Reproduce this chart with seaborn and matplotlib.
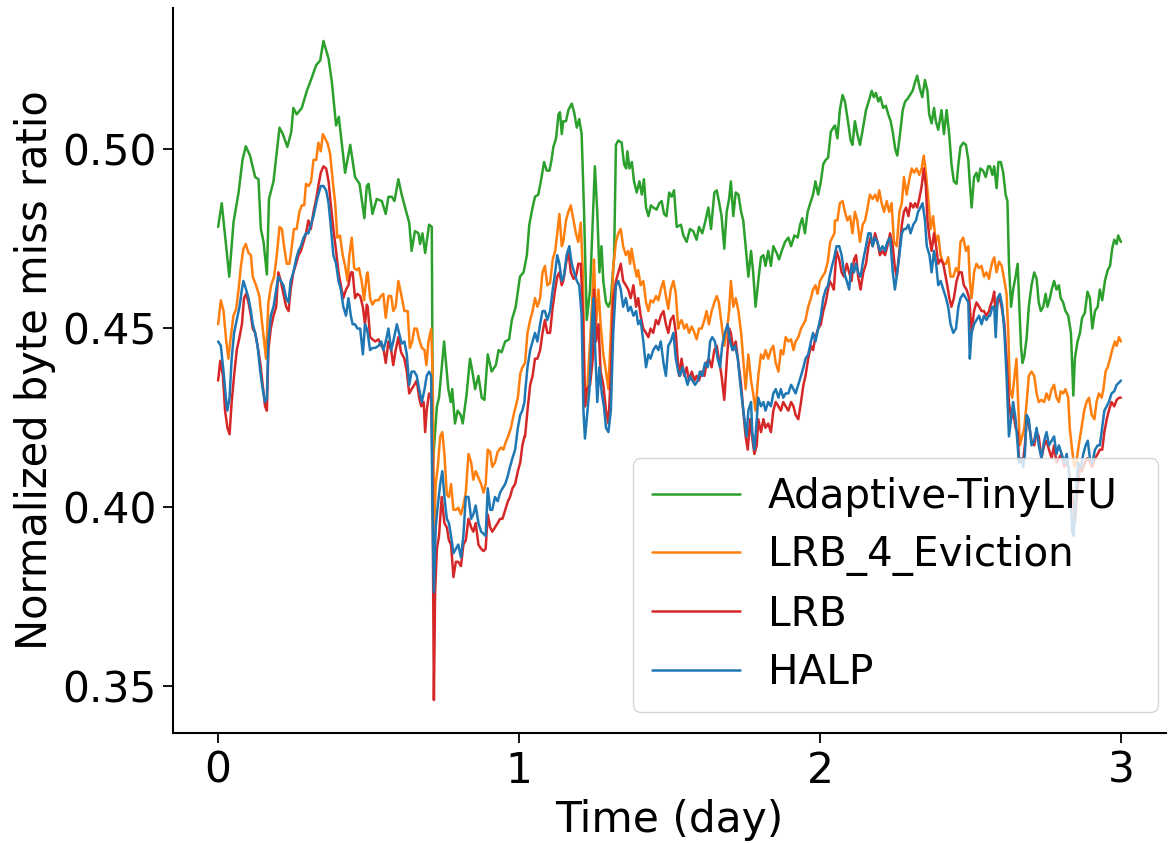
import matplotlib
matplotlib.use("Agg")
import matplotlib.pyplot as plt
import seaborn as sns

# values (time in days, normalized byte miss ratio)
tinylfu_t = [
    0.000, 0.012, 0.037, 0.051, 0.068, 0.081, 0.092, 0.106, 0.123, 0.134, 0.142, 0.151, 0.162, 0.169, 0.184, 0.204, 0.215, 0.230, 0.243, 0.250,
    0.261, 0.278, 0.295, 0.311, 0.326, 0.339, 0.350, 0.367, 0.378, 0.392, 0.401, 0.422, 0.439, 0.455, 0.470, 0.486, 0.494,
    0.500, 0.513, 0.527, 0.544, 0.557, 0.566, 0.577, 0.586, 0.599, 0.610, 0.627, 0.635, 0.643, 0.654, 0.666, 0.671, 0.679, 0.688, 0.701, 0.710,
    0.714, 0.727, 0.734, 0.751, 0.765, 0.773, 0.778, 0.787, 0.796, 0.806, 0.813, 0.826, 0.837, 0.845, 0.854, 0.865, 0.876, 0.885, 0.896, 0.909,
    0.923, 0.932, 0.942, 0.954, 0.967, 0.976, 0.989,
    1.003, 1.015, 1.026, 1.034, 1.045, 1.053, 1.064, 1.075, 1.083, 1.092, 1.101, 1.108, 1.114, 1.123, 1.131, 1.136, 1.142, 1.147, 1.156, 1.164,
    1.175, 1.183, 1.192, 1.200, 1.208, 1.216, 1.225, 1.236, 1.245, 1.252, 1.260, 1.267, 1.274, 1.280, 1.289, 1.297, 1.305, 1.316, 1.322, 1.330,
    1.341, 1.349, 1.356, 1.360, 1.367, 1.375, 1.382, 1.391, 1.400, 1.408, 1.415, 1.422, 1.430, 1.438, 1.446, 1.457, 1.466, 1.474, 1.482, 1.490,
    1.499, 1.507, 1.515, 1.524,
    1.538, 1.546, 1.557, 1.568, 1.579, 1.590, 1.598, 1.609, 1.618, 1.629, 1.638, 1.649, 1.657, 1.664, 1.673, 1.682, 1.690, 1.698, 1.704, 1.712,
    1.720, 1.729, 1.738, 1.745, 1.753, 1.762, 1.771, 1.778, 1.786, 1.795, 1.804, 1.812, 1.819, 1.828, 1.837, 1.845, 1.856, 1.864, 1.873, 1.884,
    1.895, 1.904, 1.915, 1.926, 1.934, 1.941, 1.950, 1.959, 1.970, 1.977, 1.985, 1.994, 2.003, 2.011, 2.019, 2.027, 2.036, 2.044,
    2.050, 2.058, 2.066, 2.075, 2.083, 2.094, 2.102, 2.108, 2.116, 2.124, 2.133, 2.142, 2.153, 2.164, 2.172, 2.179, 2.186, 2.194, 2.201, 2.210,
    2.219, 2.227, 2.235, 2.243, 2.250, 2.257, 2.266, 2.275, 2.283, 2.290, 2.299, 2.308, 2.316, 2.323, 2.332, 2.340, 2.349, 2.357, 2.363, 2.371,
    2.379, 2.385, 2.393, 2.404, 2.412, 2.421, 2.430, 2.437, 2.445, 2.454, 2.460, 2.467, 2.476, 2.485, 2.493, 2.498, 2.504, 2.512, 2.520, 2.526,
    2.533, 2.542, 2.551, 2.559,
    2.565, 2.573, 2.579, 2.587, 2.593, 2.601, 2.609, 2.617, 2.623, 2.628, 2.635, 2.642, 2.650, 2.657, 2.662, 2.668, 2.673, 2.679, 2.687, 2.694,
    2.703, 2.712, 2.720, 2.727, 2.734, 2.742, 2.750, 2.756, 2.764, 2.770, 2.778, 2.786, 2.794, 2.800, 2.808, 2.816, 2.825, 2.834, 2.842, 2.847,
    2.856, 2.864, 2.871, 2.880, 2.889, 2.897, 2.905, 2.914, 2.923, 2.930, 2.938, 2.947, 2.956, 2.964, 2.971, 2.978, 2.986, 2.991, 3.000,
]
tinylfu_v = [
    0.4783, 0.4849, 0.4644, 0.4795, 0.4879, 0.4970, 0.5008, 0.4982, 0.4922, 0.4916, 0.4777, 0.4741, 0.4650, 0.4861, 0.4910, 0.5060, 0.5042, 0.5006, 0.5048, 0.5115,
    0.5097, 0.5115, 0.5163, 0.5199, 0.5235, 0.5247, 0.5302, 0.5253, 0.5187, 0.5066, 0.5090, 0.4934, 0.5012, 0.4922, 0.4903, 0.4807, 0.4897,
    0.4903, 0.4819, 0.4861, 0.4855, 0.4819, 0.4867, 0.4867, 0.4855, 0.4916, 0.4873, 0.4819, 0.4795, 0.4716, 0.4771, 0.4765, 0.4735, 0.4765, 0.4710, 0.4789, 0.4783,
    0.4125, 0.4282, 0.4306, 0.4463, 0.4330, 0.4294, 0.4330, 0.4234, 0.4270, 0.4258, 0.4234, 0.4318, 0.4415, 0.4379, 0.4330, 0.4367, 0.4306, 0.4300, 0.4427, 0.4379,
    0.4397, 0.4439, 0.4433, 0.4463, 0.4469, 0.4523, 0.4560,
    0.4644, 0.4656, 0.4704, 0.4789, 0.4837, 0.4867, 0.4873, 0.4922, 0.4964, 0.4940, 0.4940, 0.4970, 0.5006, 0.5030, 0.5097, 0.5103, 0.5042, 0.5078, 0.5078, 0.5109,
    0.5127, 0.5103, 0.5060, 0.5084, 0.5042, 0.4825, 0.4523, 0.4608, 0.4801, 0.4952, 0.4825, 0.4656, 0.4729, 0.4632, 0.4572, 0.4560, 0.4578, 0.4704, 0.5012, 0.5024,
    0.5018, 0.4958, 0.4946, 0.4994, 0.4946, 0.4964, 0.4910, 0.4879, 0.4910, 0.4873, 0.4916, 0.4837, 0.4813, 0.4843, 0.4837, 0.4831, 0.4849, 0.4855, 0.4819, 0.4813,
    0.4879, 0.4867, 0.4885, 0.4783,
    0.4789, 0.4759, 0.4741, 0.4777, 0.4771, 0.4747, 0.4783, 0.4765, 0.4795, 0.4837, 0.4777, 0.4879, 0.4885, 0.4855, 0.4813, 0.4722, 0.4825, 0.4861, 0.4910, 0.4813,
    0.4879, 0.4873, 0.4825, 0.4801, 0.4729, 0.4644, 0.4716, 0.4656, 0.4560, 0.4632, 0.4698, 0.4704, 0.4674, 0.4716, 0.4674, 0.4729, 0.4710, 0.4692, 0.4716, 0.4741,
    0.4753, 0.4729, 0.4759, 0.4753, 0.4789, 0.4807, 0.4765, 0.4825, 0.4855, 0.4873, 0.4910, 0.4873, 0.4910, 0.4958, 0.4970, 0.4976, 0.5048, 0.5060,
    0.5066, 0.5030, 0.5109, 0.5151, 0.5133, 0.5072, 0.5024, 0.5012, 0.5078, 0.5042, 0.5012, 0.5054, 0.5109, 0.5139, 0.5163, 0.5145, 0.5157, 0.5133, 0.5145, 0.5115,
    0.5121, 0.5097, 0.5078, 0.5042, 0.5000, 0.4982, 0.5042, 0.5109, 0.5133, 0.5139, 0.5151, 0.5163, 0.5187, 0.5205, 0.5169, 0.5145, 0.5193, 0.5163, 0.5097, 0.5072,
    0.5115, 0.5078, 0.5054, 0.5109, 0.5042, 0.5109, 0.5036, 0.4958, 0.4910, 0.4903, 0.4958, 0.5006, 0.5018, 0.5012, 0.4970, 0.4903, 0.4837, 0.4922, 0.4934, 0.4910,
    0.4946, 0.4940, 0.4922, 0.4952,
    0.4952, 0.4928, 0.4952, 0.4891, 0.4964, 0.4964, 0.4934, 0.4873, 0.4855, 0.4680, 0.4560, 0.4608, 0.4644, 0.4680, 0.4572, 0.4451, 0.4403, 0.4421, 0.4475, 0.4560,
    0.4620, 0.4656, 0.4638, 0.4572, 0.4548, 0.4560, 0.4596, 0.4560, 0.4584, 0.4608, 0.4632, 0.4608, 0.4620, 0.4584, 0.4572, 0.4548, 0.4535, 0.4487, 0.4312, 0.4415,
    0.4463, 0.4487, 0.4529, 0.4542, 0.4602, 0.4584, 0.4499, 0.4548, 0.4560, 0.4608, 0.4578, 0.4632, 0.4662, 0.4674, 0.4722, 0.4747, 0.4735, 0.4759, 0.4741,
]

lrb4_t = [
    0.000, 0.009, 0.018, 0.027, 0.034, 0.042, 0.051, 0.060, 0.068, 0.075, 0.084, 0.092, 0.101, 0.109, 0.115, 0.126, 0.137, 0.145, 0.153, 0.159,
    0.167, 0.176, 0.186, 0.195, 0.204, 0.212, 0.219, 0.228, 0.237, 0.245, 0.252, 0.261, 0.270, 0.278, 0.286, 0.292, 0.301, 0.309, 0.317, 0.326,
    0.333, 0.341, 0.348, 0.355, 0.363, 0.372, 0.381, 0.389, 0.396, 0.405, 0.414, 0.422, 0.430, 0.436, 0.444, 0.452, 0.461, 0.468, 0.477, 0.485,
    0.494,
    0.497, 0.505, 0.513, 0.522, 0.533, 0.541, 0.549, 0.557, 0.566, 0.575, 0.582, 0.590, 0.599, 0.608, 0.619, 0.630, 0.637, 0.645, 0.652, 0.660,
    0.668, 0.677, 0.686, 0.692, 0.699, 0.708, 0.713, 0.718, 0.723, 0.730, 0.738, 0.745, 0.752, 0.760, 0.767, 0.774, 0.782, 0.790, 0.798, 0.807,
    0.815, 0.823, 0.832, 0.841, 0.848, 0.856, 0.865, 0.874, 0.882, 0.889, 0.896, 0.904, 0.911, 0.920, 0.929, 0.940, 0.948, 0.955, 0.964, 0.973,
    0.982, 0.989, 0.996, 1.004, 1.011,
    1.020, 1.028, 1.037, 1.045, 1.053, 1.061, 1.070, 1.078, 1.086, 1.094, 1.103, 1.112, 1.120, 1.127, 1.134, 1.142, 1.147, 1.156, 1.164, 1.172,
    1.181, 1.189, 1.197, 1.205, 1.212, 1.219, 1.225, 1.236, 1.245, 1.249, 1.256, 1.264, 1.271, 1.280, 1.289, 1.297, 1.305, 1.313, 1.322, 1.330,
    1.338, 1.346, 1.355, 1.363, 1.369, 1.374, 1.382, 1.391, 1.396, 1.404, 1.413, 1.422, 1.430, 1.437, 1.446, 1.455, 1.463, 1.471, 1.480, 1.488,
    1.496, 1.504, 1.513, 1.521, 1.529,
    1.532, 1.540, 1.549, 1.557, 1.565, 1.574, 1.583, 1.590, 1.598, 1.607, 1.616, 1.623, 1.631, 1.640, 1.649, 1.657, 1.664, 1.673, 1.682, 1.690,
    1.698, 1.704, 1.712, 1.720, 1.729, 1.738, 1.745, 1.753, 1.762, 1.771, 1.778, 1.786, 1.795, 1.804, 1.812, 1.819, 1.828, 1.837, 1.845, 1.853,
    1.862, 1.870, 1.878, 1.886, 1.895, 1.904, 1.912, 1.919, 1.928, 1.937, 1.945, 1.952, 1.961, 1.970, 1.977, 1.985, 1.992, 2.000, 2.008, 2.017,
    2.026, 2.034, 2.041, 2.048,
    2.050, 2.058, 2.066, 2.075, 2.083, 2.091, 2.100, 2.108, 2.116, 2.124, 2.133, 2.142, 2.150, 2.157, 2.166, 2.175, 2.183, 2.191, 2.197, 2.205,
    2.213, 2.222, 2.230, 2.238, 2.246, 2.255, 2.264, 2.272, 2.279, 2.288, 2.297, 2.305, 2.313, 2.321, 2.330, 2.338, 2.345, 2.352, 2.360, 2.368,
    2.376, 2.385, 2.393, 2.401, 2.410, 2.419, 2.426, 2.434, 2.443, 2.452, 2.460, 2.467, 2.476, 2.485, 2.493, 2.498, 2.504, 2.512, 2.520, 2.529,
    2.537, 2.545, 2.553, 2.562,
    2.565, 2.573, 2.579, 2.587, 2.595, 2.604, 2.613, 2.620, 2.626, 2.631, 2.639, 2.645, 2.653, 2.659, 2.664, 2.672, 2.679, 2.687, 2.694, 2.703,
    2.712, 2.720, 2.727, 2.736, 2.745, 2.753, 2.761, 2.770, 2.778, 2.786, 2.794, 2.800, 2.808, 2.816, 2.825, 2.830, 2.838, 2.845, 2.852, 2.860,
    2.869, 2.878, 2.886, 2.894, 2.903, 2.912, 2.919, 2.927, 2.936, 2.942, 2.949, 2.956, 2.964, 2.971, 2.980, 2.986, 2.994, 3.000,
]
lrb4_v = [
    0.4511, 0.4578, 0.4548, 0.4463, 0.4415, 0.4475, 0.4535, 0.4554, 0.4608, 0.4668, 0.4722, 0.4735, 0.4710, 0.4704, 0.4644, 0.4620, 0.4590, 0.4523, 0.4463, 0.4415,
    0.4572, 0.4620, 0.4644, 0.4704, 0.4783, 0.4777, 0.4729, 0.4680, 0.4680, 0.4729, 0.4777, 0.4777, 0.4825, 0.4843, 0.4843, 0.4903, 0.4897, 0.4910, 0.4970, 0.4970,
    0.5018, 0.4994, 0.5042, 0.5030, 0.5018, 0.4988, 0.4910, 0.4849, 0.4753, 0.4759, 0.4704, 0.4674, 0.4632, 0.4704, 0.4753, 0.4668, 0.4662, 0.4668, 0.4632, 0.4578,
    0.4650,
    0.4656, 0.4584, 0.4566, 0.4578, 0.4578, 0.4590, 0.4596, 0.4529, 0.4590, 0.4590, 0.4548, 0.4560, 0.4632, 0.4596, 0.4548, 0.4548, 0.4445, 0.4463, 0.4499, 0.4499,
    0.4469, 0.4445, 0.4439, 0.4397, 0.4463, 0.4499, 0.4367, 0.3929, 0.4065, 0.4113, 0.4198, 0.4210, 0.4149, 0.4035, 0.4029, 0.4065, 0.3993, 0.3993, 0.3999, 0.3980,
    0.4005, 0.4041, 0.4149, 0.4125, 0.4077, 0.4101, 0.4083, 0.4065, 0.4041, 0.4065, 0.4161, 0.4155, 0.4113, 0.4125, 0.4155, 0.4167, 0.4161, 0.4180, 0.4198, 0.4222,
    0.4258, 0.4282, 0.4306, 0.4373, 0.4391,
    0.4403, 0.4487, 0.4523, 0.4548, 0.4584, 0.4560, 0.4584, 0.4656, 0.4674, 0.4620, 0.4626, 0.4692, 0.4716, 0.4765, 0.4819, 0.4729, 0.4741, 0.4801, 0.4825, 0.4843,
    0.4801, 0.4765, 0.4741, 0.4795, 0.4656, 0.4282, 0.4306, 0.4463, 0.4608, 0.4692, 0.4511, 0.4608, 0.4511, 0.4427, 0.4379, 0.4330, 0.4487, 0.4668, 0.4741, 0.4765,
    0.4777, 0.4729, 0.4704, 0.4716, 0.4680, 0.4722, 0.4680, 0.4644, 0.4662, 0.4620, 0.4632, 0.4572, 0.4548, 0.4578, 0.4572, 0.4590, 0.4578, 0.4608, 0.4632, 0.4590,
    0.4554, 0.4608, 0.4632, 0.4596, 0.4499,
    0.4511, 0.4523, 0.4499, 0.4511, 0.4487, 0.4505, 0.4487, 0.4469, 0.4499, 0.4499, 0.4523, 0.4548, 0.4511, 0.4548, 0.4572, 0.4590, 0.4572, 0.4511, 0.4451, 0.4487,
    0.4548, 0.4632, 0.4560, 0.4584, 0.4548, 0.4487, 0.4415, 0.4330, 0.4427, 0.4354, 0.4318, 0.4270, 0.4367, 0.4427, 0.4415, 0.4439, 0.4415, 0.4439, 0.4451, 0.4403,
    0.4379, 0.4439, 0.4427, 0.4475, 0.4463, 0.4469, 0.4439, 0.4463, 0.4475, 0.4499, 0.4511, 0.4523, 0.4560, 0.4584, 0.4608, 0.4620, 0.4596, 0.4632, 0.4644, 0.4656,
    0.4686, 0.4741, 0.4753, 0.4765,
    0.4801, 0.4801, 0.4849, 0.4855, 0.4825, 0.4801, 0.4813, 0.4765, 0.4825, 0.4801, 0.4741, 0.4789, 0.4801, 0.4831, 0.4873, 0.4861, 0.4873, 0.4855, 0.4885, 0.4849,
    0.4825, 0.4855, 0.4825, 0.4849, 0.4741, 0.4729, 0.4825, 0.4849, 0.4922, 0.4873, 0.4916, 0.4946, 0.4934, 0.4946, 0.4928, 0.4946, 0.4982, 0.4934, 0.4861, 0.4777,
    0.4813, 0.4741, 0.4759, 0.4704, 0.4680, 0.4680, 0.4698, 0.4644, 0.4644, 0.4668, 0.4656, 0.4741, 0.4753, 0.4716, 0.4729, 0.4632, 0.4584, 0.4656, 0.4680, 0.4668,
    0.4674, 0.4644, 0.4656, 0.4638,
    0.4656, 0.4686, 0.4698, 0.4656, 0.4686, 0.4674, 0.4632, 0.4596, 0.4487, 0.4330, 0.4306, 0.4354, 0.4415, 0.4282, 0.4173, 0.4198, 0.4222, 0.4294, 0.4367, 0.4379,
    0.4367, 0.4318, 0.4294, 0.4300, 0.4294, 0.4318, 0.4300, 0.4330, 0.4342, 0.4306, 0.4294, 0.4324, 0.4318, 0.4330, 0.4306, 0.4222, 0.4161, 0.4113, 0.4125, 0.4173,
    0.4222, 0.4270, 0.4294, 0.4306, 0.4258, 0.4246, 0.4294, 0.4318, 0.4306, 0.4330, 0.4379, 0.4391, 0.4415, 0.4439, 0.4463, 0.4451, 0.4475, 0.4463,
]

lrb_t = [
    0.000, 0.007, 0.016, 0.023, 0.031, 0.038, 0.045, 0.053, 0.062, 0.071, 0.079, 0.086, 0.093, 0.101, 0.109, 0.115, 0.123, 0.131, 0.140, 0.148,
    0.156, 0.162, 0.167, 0.175, 0.184, 0.193, 0.200, 0.208, 0.217, 0.226, 0.234, 0.241, 0.250, 0.259, 0.267, 0.275, 0.284, 0.292, 0.300, 0.308,
    0.317, 0.326, 0.333, 0.341, 0.350, 0.359, 0.367, 0.374, 0.383, 0.392, 0.400, 0.408, 0.416, 0.425, 0.433, 0.441, 0.447, 0.455, 0.463, 0.472,
    0.481, 0.488, 0.494,
    0.497, 0.505, 0.513, 0.522, 0.533, 0.542, 0.549, 0.557, 0.566, 0.575, 0.582, 0.590, 0.599, 0.608, 0.619, 0.627, 0.635, 0.643, 0.652, 0.660,
    0.668, 0.675, 0.683, 0.688, 0.693, 0.701, 0.708, 0.712, 0.717, 0.721, 0.727, 0.734, 0.743, 0.752, 0.760, 0.767, 0.774, 0.782, 0.790, 0.798,
    0.807, 0.815, 0.823, 0.832, 0.841, 0.848, 0.856, 0.865, 0.874, 0.882, 0.889, 0.896, 0.904, 0.911, 0.920, 0.929, 0.937, 0.945, 0.954, 0.963,
    0.970, 0.978, 0.987, 0.996, 1.004, 1.011, 1.018,
    1.020, 1.028, 1.037, 1.045, 1.053, 1.061, 1.070, 1.078, 1.086, 1.094, 1.103, 1.112, 1.120, 1.127, 1.134, 1.142, 1.147, 1.156, 1.164, 1.172,
    1.181, 1.189, 1.197, 1.205, 1.212, 1.219, 1.225, 1.236, 1.245, 1.249, 1.256, 1.264, 1.271, 1.280, 1.289, 1.297, 1.305, 1.313, 1.322, 1.330,
    1.338, 1.346, 1.355, 1.363, 1.371, 1.380, 1.389, 1.396, 1.404, 1.413, 1.422, 1.430, 1.437, 1.446, 1.455, 1.463, 1.471, 1.480, 1.488, 1.496,
    1.504, 1.513, 1.521, 1.529,
    1.532, 1.540, 1.549, 1.557, 1.565, 1.574, 1.583, 1.590, 1.598, 1.607, 1.616, 1.623, 1.631, 1.640, 1.649, 1.657, 1.664, 1.673, 1.682, 1.690,
    1.698, 1.704, 1.712, 1.720, 1.729, 1.738, 1.745, 1.753, 1.760, 1.768, 1.776, 1.782, 1.790, 1.795, 1.804, 1.812, 1.819, 1.828, 1.837, 1.845,
    1.853, 1.862, 1.870, 1.878, 1.886, 1.895, 1.904, 1.912, 1.919, 1.928, 1.937, 1.945, 1.952, 1.961, 1.970, 1.977, 1.985, 1.994, 2.003, 2.011,
    2.019, 2.027, 2.032, 2.040, 2.046,
    2.055, 2.064, 2.072, 2.080, 2.089, 2.097, 2.105, 2.113, 2.120, 2.127, 2.135, 2.144, 2.153, 2.161, 2.168, 2.175, 2.183, 2.191, 2.199, 2.208,
    2.216, 2.224, 2.233, 2.242, 2.249, 2.255, 2.264, 2.272, 2.279, 2.286, 2.294, 2.301, 2.310, 2.316, 2.323, 2.330, 2.338, 2.345, 2.352, 2.357,
    2.364, 2.371, 2.379, 2.386, 2.393, 2.401, 2.410, 2.415, 2.423, 2.430, 2.437, 2.445, 2.454, 2.463, 2.471, 2.478, 2.487, 2.496, 2.504, 2.512,
    2.520, 2.529, 2.537, 2.545, 2.553, 2.562,
    2.565, 2.573, 2.579, 2.584, 2.590, 2.598, 2.606, 2.613, 2.620, 2.628, 2.635, 2.642, 2.650, 2.657, 2.661, 2.668, 2.676, 2.681, 2.687, 2.694,
    2.703, 2.712, 2.720, 2.727, 2.736, 2.745, 2.753, 2.761, 2.770, 2.778, 2.786, 2.794, 2.803, 2.812, 2.820, 2.825, 2.834, 2.842, 2.847, 2.856,
    2.864, 2.871, 2.880, 2.889, 2.897, 2.905, 2.914, 2.923, 2.930, 2.938, 2.945, 2.953, 2.960, 2.969, 2.978, 2.986, 2.994, 3.000,
]
lrb_v = [
    0.4354, 0.4409, 0.4367, 0.4270, 0.4222, 0.4204, 0.4294, 0.4367, 0.4439, 0.4475, 0.4511, 0.4584, 0.4596, 0.4572, 0.4535, 0.4499, 0.4487, 0.4451, 0.4403, 0.4342,
    0.4282, 0.4270, 0.4439, 0.4499, 0.4535, 0.4560, 0.4656, 0.4632, 0.4596, 0.4560, 0.4548, 0.4608, 0.4656, 0.4680, 0.4704, 0.4716, 0.4741, 0.4765, 0.4801, 0.4777,
    0.4825, 0.4861, 0.4897, 0.4934, 0.4952, 0.4946, 0.4910, 0.4849, 0.4777, 0.4716, 0.4656, 0.4620, 0.4584, 0.4608, 0.4620, 0.4656, 0.4656, 0.4584, 0.4596, 0.4590,
    0.4560, 0.4511, 0.4566,
    0.4560, 0.4475, 0.4469, 0.4463, 0.4469, 0.4451, 0.4445, 0.4403, 0.4463, 0.4439, 0.4397, 0.4439, 0.4475, 0.4433, 0.4415, 0.4379, 0.4318, 0.4330, 0.4342, 0.4354,
    0.4306, 0.4282, 0.4294, 0.4210, 0.4270, 0.4318, 0.4306, 0.4125, 0.3462, 0.3763, 0.3884, 0.3920, 0.4029, 0.3956, 0.3944, 0.3908, 0.3896, 0.3805, 0.3848, 0.3848,
    0.3836, 0.3896, 0.3908, 0.3968, 0.3944, 0.3932, 0.3956, 0.3896, 0.3884, 0.3878, 0.3884, 0.3980, 0.3944, 0.3932, 0.3944, 0.3956, 0.3968, 0.3968, 0.3993, 0.4017,
    0.4029, 0.4053, 0.4065, 0.4101, 0.4125, 0.4173, 0.4198,
    0.4198, 0.4270, 0.4342, 0.4367, 0.4415, 0.4415, 0.4439, 0.4487, 0.4523, 0.4487, 0.4487, 0.4560, 0.4608, 0.4644, 0.4656, 0.4620, 0.4632, 0.4680, 0.4716, 0.4656,
    0.4638, 0.4644, 0.4680, 0.4680, 0.4548, 0.4282, 0.4330, 0.4342, 0.4415, 0.4608, 0.4463, 0.4511, 0.4379, 0.4342, 0.4270, 0.4234, 0.4367, 0.4584, 0.4632, 0.4656,
    0.4680, 0.4632, 0.4620, 0.4608, 0.4584, 0.4620, 0.4560, 0.4584, 0.4535, 0.4499, 0.4487, 0.4475, 0.4499, 0.4487, 0.4523, 0.4511, 0.4535, 0.4548, 0.4511, 0.4487,
    0.4523, 0.4535, 0.4487, 0.4391,
    0.4367, 0.4415, 0.4367, 0.4391, 0.4354, 0.4379, 0.4354, 0.4367, 0.4354, 0.4379, 0.4367, 0.4403, 0.4415, 0.4391, 0.4439, 0.4451, 0.4415, 0.4367, 0.4300, 0.4403,
    0.4499, 0.4487, 0.4439, 0.4463, 0.4403, 0.4342, 0.4270, 0.4198, 0.4161, 0.4246, 0.4186, 0.4149, 0.4173, 0.4246, 0.4210, 0.4246, 0.4222, 0.4234, 0.4210, 0.4270,
    0.4294, 0.4282, 0.4270, 0.4294, 0.4282, 0.4270, 0.4294, 0.4282, 0.4258, 0.4246, 0.4294, 0.4342, 0.4367, 0.4415, 0.4451, 0.4439, 0.4475, 0.4499, 0.4511, 0.4548,
    0.4572, 0.4608, 0.4632, 0.4620, 0.4608,
    0.4716, 0.4692, 0.4656, 0.4644, 0.4680, 0.4656, 0.4632, 0.4692, 0.4704, 0.4644, 0.4608, 0.4656, 0.4680, 0.4729, 0.4753, 0.4729, 0.4765, 0.4741, 0.4704, 0.4716,
    0.4704, 0.4729, 0.4765, 0.4729, 0.4668, 0.4644, 0.4716, 0.4789, 0.4825, 0.4837, 0.4813, 0.4849, 0.4837, 0.4849, 0.4837, 0.4861, 0.4897, 0.4946, 0.4897, 0.4801,
    0.4753, 0.4716, 0.4765, 0.4729, 0.4680, 0.4692, 0.4680, 0.4656, 0.4620, 0.4584, 0.4560, 0.4584, 0.4632, 0.4656, 0.4656, 0.4620, 0.4608, 0.4584, 0.4487, 0.4548,
    0.4572, 0.4560, 0.4548, 0.4548, 0.4535, 0.4548,
    0.4560, 0.4578, 0.4602, 0.4529, 0.4572, 0.4584, 0.4548, 0.4511, 0.4415, 0.4294, 0.4246, 0.4270, 0.4222, 0.4210, 0.4137, 0.4125, 0.4137, 0.4173, 0.4246, 0.4234,
    0.4186, 0.4173, 0.4210, 0.4198, 0.4137, 0.4173, 0.4186, 0.4161, 0.4137, 0.4173, 0.4125, 0.4137, 0.4149, 0.4113, 0.4125, 0.4113, 0.4065, 0.4017, 0.3956, 0.4053,
    0.4113, 0.4101, 0.4125, 0.4137, 0.4125, 0.4113, 0.4137, 0.4149, 0.4161, 0.4161, 0.4210, 0.4246, 0.4270, 0.4294, 0.4282, 0.4300, 0.4306, 0.4306,
]

halp_t = [
    0.000, 0.009, 0.018, 0.027, 0.031, 0.038, 0.045, 0.053, 0.062, 0.071, 0.079, 0.084, 0.093, 0.101, 0.109, 0.115, 0.123, 0.131, 0.140, 0.148,
    0.156, 0.162, 0.167, 0.175, 0.184, 0.193, 0.200, 0.208, 0.217, 0.226, 0.234, 0.241, 0.250, 0.259, 0.267, 0.275, 0.284, 0.292, 0.300, 0.308,
    0.317, 0.326, 0.333, 0.341, 0.350, 0.359, 0.367, 0.374, 0.383, 0.392, 0.400, 0.408, 0.416, 0.425, 0.433, 0.441, 0.447, 0.455, 0.463, 0.472,
    0.481, 0.488, 0.494,
    0.497, 0.505, 0.513, 0.522, 0.533, 0.542, 0.549, 0.557, 0.566, 0.575, 0.582, 0.594, 0.601, 0.610, 0.619, 0.627, 0.635, 0.643, 0.652, 0.660,
    0.668, 0.677, 0.686, 0.693, 0.701, 0.708, 0.712, 0.717, 0.723, 0.730, 0.738, 0.745, 0.752, 0.760, 0.767, 0.774, 0.782, 0.790, 0.798, 0.807,
    0.815, 0.823, 0.832, 0.841, 0.848, 0.856, 0.865, 0.874, 0.882, 0.889, 0.896, 0.904, 0.911, 0.920, 0.929, 0.937, 0.945, 0.954, 0.963, 0.970,
    0.978, 0.987, 0.996, 1.004, 1.011, 1.018,
    1.020, 1.028, 1.037, 1.045, 1.053, 1.061, 1.070, 1.078, 1.086, 1.094, 1.103, 1.112, 1.120, 1.127, 1.134, 1.142, 1.149, 1.158, 1.167, 1.175,
    1.183, 1.192, 1.200, 1.208, 1.214, 1.219, 1.225, 1.234, 1.241, 1.247, 1.252, 1.260, 1.267, 1.275, 1.282, 1.289, 1.297, 1.305, 1.313, 1.322,
    1.330, 1.338, 1.346, 1.355, 1.363, 1.371, 1.380, 1.389, 1.396, 1.404, 1.413, 1.422, 1.430, 1.437, 1.446, 1.455, 1.463, 1.471, 1.480, 1.488,
    1.496, 1.504, 1.513, 1.521, 1.529, 1.535,
    1.543, 1.552, 1.560, 1.568, 1.576, 1.585, 1.594, 1.601, 1.609, 1.618, 1.627, 1.635, 1.642, 1.651, 1.660, 1.668, 1.675, 1.684, 1.693, 1.701,
    1.709, 1.718, 1.727, 1.734, 1.742, 1.749, 1.756, 1.762, 1.771, 1.775, 1.782, 1.790, 1.795, 1.804, 1.812, 1.819, 1.828, 1.837, 1.845, 1.853,
    1.862, 1.870, 1.878, 1.886, 1.895, 1.904, 1.912, 1.919, 1.928, 1.937, 1.945, 1.952, 1.961, 1.970, 1.977, 1.985, 1.994, 2.003, 2.011, 2.019,
    2.027, 2.032, 2.040, 2.046,
    2.055, 2.064, 2.072, 2.080, 2.089, 2.097, 2.105, 2.113, 2.120, 2.127, 2.135, 2.144, 2.153, 2.161, 2.168, 2.175, 2.183, 2.191, 2.199, 2.208,
    2.216, 2.224, 2.233, 2.242, 2.249, 2.255, 2.264, 2.272, 2.279, 2.286, 2.294, 2.301, 2.310, 2.319, 2.326, 2.334, 2.341, 2.349, 2.355, 2.364,
    2.371, 2.379, 2.386, 2.393, 2.401, 2.410, 2.419, 2.426, 2.434, 2.443, 2.452, 2.460, 2.467, 2.476, 2.485, 2.493, 2.498, 2.504, 2.512, 2.520,
    2.529, 2.537, 2.545, 2.553, 2.562,
    2.565, 2.573, 2.579, 2.584, 2.590, 2.598, 2.606, 2.613, 2.620, 2.628, 2.635, 2.642, 2.650, 2.657, 2.661, 2.668, 2.676, 2.681, 2.687, 2.694,
    2.703, 2.712, 2.720, 2.727, 2.736, 2.745, 2.753, 2.761, 2.770, 2.778, 2.786, 2.794, 2.803, 2.812, 2.820, 2.827, 2.834, 2.838, 2.843, 2.850,
    2.858, 2.867, 2.875, 2.883, 2.890, 2.897, 2.905, 2.914, 2.923, 2.930, 2.936, 2.945, 2.953, 2.960, 2.969, 2.978, 2.986, 2.994, 3.000,
]
halp_v = [
    0.4463, 0.4451, 0.4379, 0.4294, 0.4270, 0.4306, 0.4415, 0.4487, 0.4523, 0.4560, 0.4608, 0.4632, 0.4608, 0.4584, 0.4548, 0.4511, 0.4487, 0.4451, 0.4379, 0.4330,
    0.4294, 0.4306, 0.4463, 0.4535, 0.4560, 0.4608, 0.4644, 0.4632, 0.4620, 0.4584, 0.4572, 0.4632, 0.4656, 0.4692, 0.4716, 0.4729, 0.4753, 0.4765, 0.4765, 0.4789,
    0.4813, 0.4849, 0.4873, 0.4897, 0.4897, 0.4885, 0.4849, 0.4789, 0.4704, 0.4680, 0.4632, 0.4608, 0.4560, 0.4535, 0.4584, 0.4535, 0.4511, 0.4511, 0.4499, 0.4499,
    0.4427, 0.4511, 0.4499,
    0.4487, 0.4439, 0.4445, 0.4445, 0.4451, 0.4463, 0.4439, 0.4463, 0.4499, 0.4439, 0.4463, 0.4511, 0.4487, 0.4457, 0.4463, 0.4427, 0.4342, 0.4379, 0.4379, 0.4367,
    0.4330, 0.4294, 0.4330, 0.4367, 0.4379, 0.4367, 0.4005, 0.3763, 0.3944, 0.4005, 0.4065, 0.4101, 0.4029, 0.3968, 0.3956, 0.3920, 0.3872, 0.3884, 0.3896, 0.3860,
    0.3920, 0.4029, 0.4029, 0.3968, 0.3980, 0.4005, 0.3956, 0.3932, 0.3926, 0.3920, 0.4053, 0.3993, 0.3993, 0.4029, 0.4017, 0.4041, 0.4053, 0.4065, 0.4089, 0.4113,
    0.4137, 0.4161, 0.4222, 0.4258, 0.4270, 0.4294,
    0.4318, 0.4391, 0.4439, 0.4463, 0.4487, 0.4463, 0.4511, 0.4548, 0.4548, 0.4523, 0.4548, 0.4608, 0.4656, 0.4704, 0.4680, 0.4632, 0.4644, 0.4704, 0.4729, 0.4680,
    0.4656, 0.4632, 0.4620, 0.4535, 0.4270, 0.4192, 0.4246, 0.4330, 0.4487, 0.4584, 0.4463, 0.4294, 0.4391, 0.4318, 0.4282, 0.4222, 0.4210, 0.4270, 0.4487, 0.4620,
    0.4632, 0.4608, 0.4560, 0.4584, 0.4548, 0.4560, 0.4535, 0.4548, 0.4511, 0.4523, 0.4463, 0.4391, 0.4427, 0.4415, 0.4439, 0.4451, 0.4439, 0.4463, 0.4403, 0.4367,
    0.4451, 0.4463, 0.4487, 0.4415, 0.4379, 0.4367,
    0.4391, 0.4367, 0.4342, 0.4367, 0.4354, 0.4342, 0.4354, 0.4379, 0.4367, 0.4403, 0.4391, 0.4463, 0.4475, 0.4463, 0.4415, 0.4391, 0.4451, 0.4487, 0.4511, 0.4463,
    0.4439, 0.4451, 0.4415, 0.4354, 0.4294, 0.4246, 0.4198, 0.4270, 0.4294, 0.4210, 0.4161, 0.4246, 0.4306, 0.4282, 0.4294, 0.4270, 0.4294, 0.4282, 0.4318, 0.4330,
    0.4306, 0.4330, 0.4306, 0.4318, 0.4318, 0.4342, 0.4330, 0.4318, 0.4342, 0.4367, 0.4391, 0.4415, 0.4427, 0.4463, 0.4487, 0.4463, 0.4499, 0.4535, 0.4584, 0.4608,
    0.4620, 0.4644, 0.4674, 0.4692,
    0.4729, 0.4729, 0.4704, 0.4656, 0.4632, 0.4608, 0.4680, 0.4656, 0.4680, 0.4656, 0.4644, 0.4692, 0.4729, 0.4765, 0.4765, 0.4729, 0.4753, 0.4741, 0.4716, 0.4729,
    0.4716, 0.4741, 0.4753, 0.4656, 0.4608, 0.4644, 0.4704, 0.4765, 0.4777, 0.4777, 0.4789, 0.4765, 0.4789, 0.4801, 0.4825, 0.4837, 0.4849, 0.4801, 0.4729, 0.4704,
    0.4656, 0.4716, 0.4680, 0.4620, 0.4632, 0.4608, 0.4584, 0.4560, 0.4511, 0.4487, 0.4499, 0.4560, 0.4584, 0.4596, 0.4584, 0.4572, 0.4415, 0.4487, 0.4511, 0.4523,
    0.4535, 0.4511, 0.4535, 0.4523, 0.4535,
    0.4535, 0.4560, 0.4560, 0.4475, 0.4584, 0.4596, 0.4560, 0.4487, 0.4367, 0.4198, 0.4246, 0.4294, 0.4246, 0.4173, 0.4125, 0.4137, 0.4113, 0.4149, 0.4258, 0.4246,
    0.4173, 0.4186, 0.4222, 0.4173, 0.4137, 0.4186, 0.4210, 0.4173, 0.4186, 0.4198, 0.4149, 0.4173, 0.4149, 0.4125, 0.4149, 0.4101, 0.4029, 0.3932, 0.3920, 0.4029,
    0.4125, 0.4113, 0.4149, 0.4173, 0.4186, 0.4137, 0.4125, 0.4161, 0.4173, 0.4173, 0.4210, 0.4270, 0.4282, 0.4294, 0.4318, 0.4324, 0.4342, 0.4348, 0.4354,
]

labels = ["Adaptive-TinyLFU", "LRB_4_Eviction", "LRB", "HALP"]
colors = ["#2ca02c", "#ff7f0e", "#d62728", "#1f77b4"]
series = [(tinylfu_t, tinylfu_v), (lrb4_t, lrb4_v), (lrb_t, lrb_v), (halp_t, halp_v)]

sns.set_style("ticks")
plt.rcParams["font.family"] = ["DejaVu Sans"]
plt.rcParams["text.color"] = "black"
plt.rcParams["axes.labelcolor"] = "black"

fig = plt.figure(figsize=(11.72, 8.43), dpi=100)
ax = fig.add_axes([0.1476, 0.1305, 0.8473, 0.86])

for (t, v), lab, col in zip(series, labels, colors):
    assert len(t) == len(v), lab
    sns.lineplot(x=t, y=v, ax=ax, color=col, linewidth=1.8, label=lab,
                 estimator=None, sort=False)

ax.set_xticks([0, 1, 2, 3])
ax.set_yticks([0.35, 0.40, 0.45, 0.50])
ax.set_xlabel("Time (day)", fontsize=30.5, labelpad=5)
ax.set_ylabel("Normalized byte miss ratio", fontsize=30)
ax.tick_params(labelsize=30.5, length=7, width=1.3, colors="black", pad=5)
for side in ["left", "bottom"]:
    ax.spines[side].set_linewidth(1.5)
    ax.spines[side].set_color("black")
sns.despine(ax=ax)

# legend box spans the same area as in the reference
ax.legend(loc="lower left",
          bbox_to_anchor=(633 / 1172, 1 - 712 / 843, 525 / 1172, 262 / 843),
          bbox_transform=fig.transFigure, mode="expand", borderaxespad=0,
          fontsize=29.2, borderpad=0.47, labelspacing=0.45, handlelength=2.17,
          handletextpad=0.69, frameon=True, fancybox=True, edgecolor="0.8",
          framealpha=0.8)

fig.savefig("out.png", dpi=100)
